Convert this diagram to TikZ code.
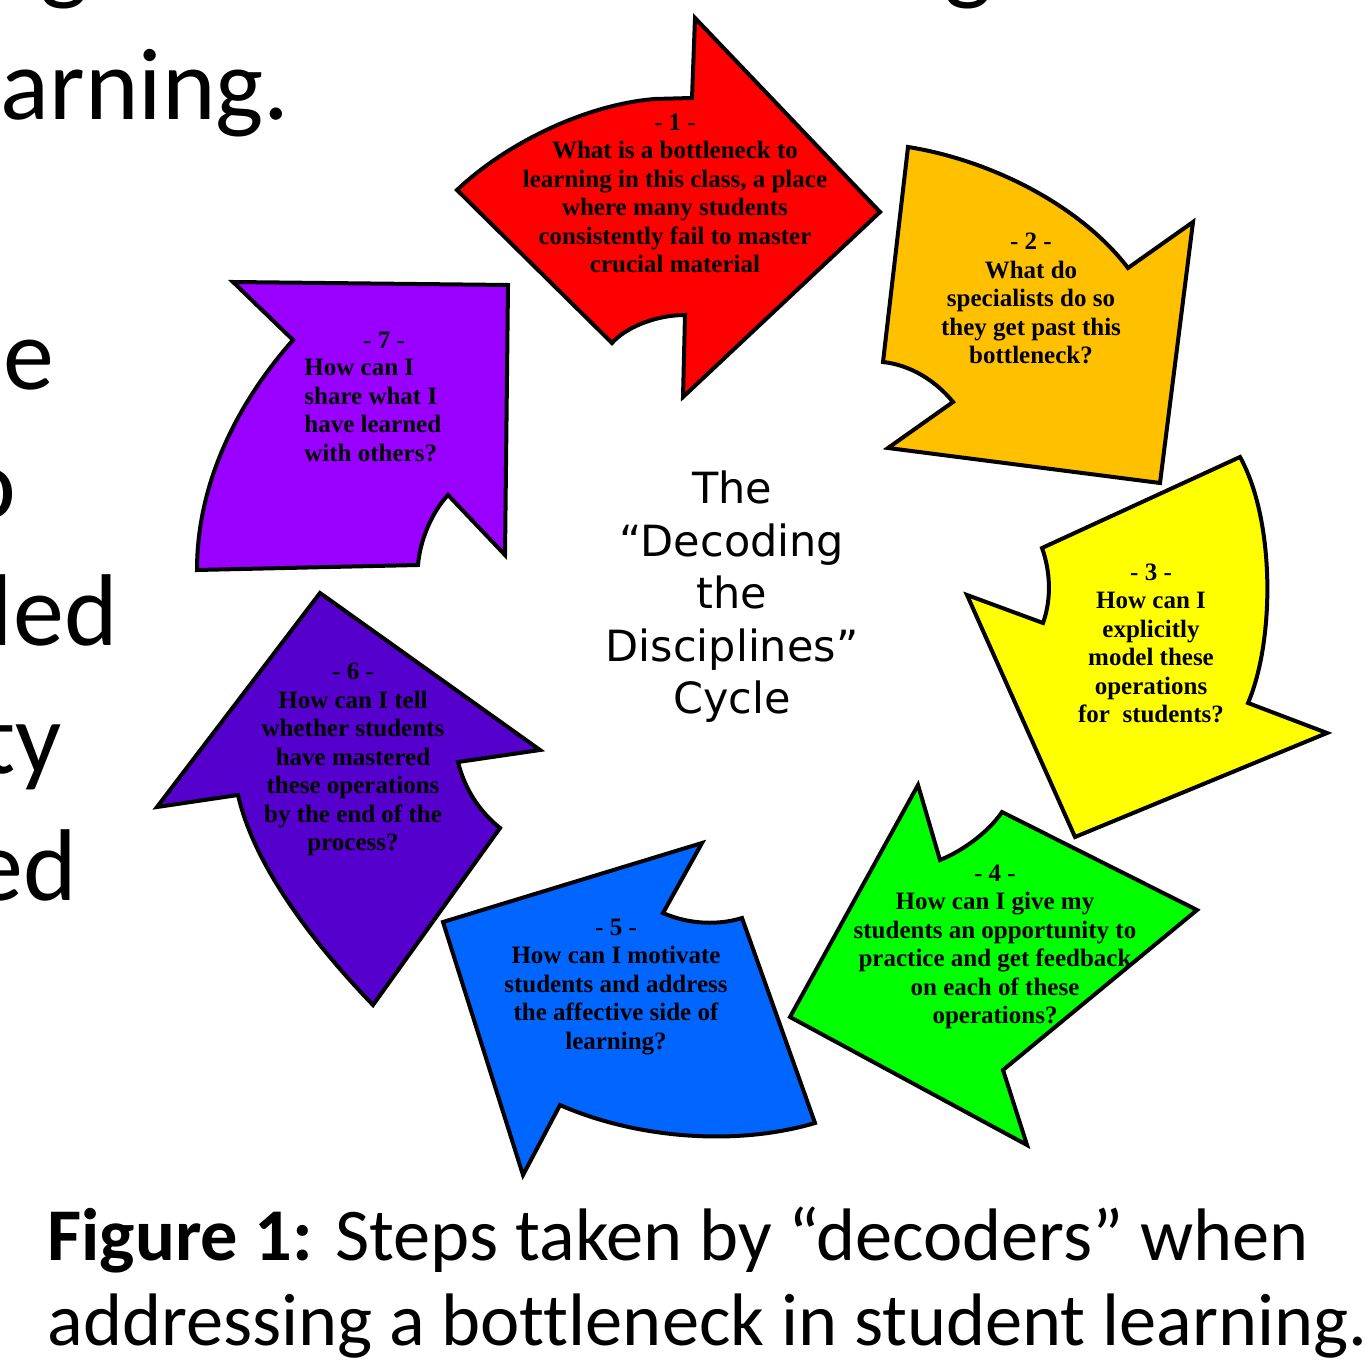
\documentclass[tikz,border=0pt]{standalone}
\usepackage{fontspec}
\setmainfont{Liberation Serif}
\newfontfamily\calfont[Ligatures=NoCommon]{Carlito}
\newfontfamily\verdfont{DejaVu Sans}
\definecolor{cRed}{HTML}{FF0000}
\definecolor{cOrange}{HTML}{FFC000}
\definecolor{cYellow}{HTML}{FFFF00}
\definecolor{cGreen}{HTML}{00FF00}
\definecolor{cBlue}{HTML}{0066FF}
\definecolor{cIndigo}{HTML}{5500CC}
\definecolor{cViolet}{HTML}{9900FF}
\tikzset{
  arrowshape/.style={draw=black, line width=2pt, line join=miter},
  qtext/.style={font=\bfseries\fontsize{12.5}{14.25}\selectfont, align=center, inner sep=0pt, text=black},
  bigtext/.style={font=\calfont\fontsize{51}{61}\selectfont, inner sep=0pt, anchor=base east},
  captext/.style={font=\calfont\fontsize{37.2}{45}\selectfont, inner sep=0pt, anchor=base west},
  centertext/.style={font=\verdfont\fontsize{21.5}{26.25}\selectfont, align=center, inner sep=0pt}
}
\begin{document}
\begin{tikzpicture}[x=0.5pt,y=-0.5pt]
\useasboundingbox (0,0) rectangle (1368,1368);
\clip (0,0) rectangle (1368,1368);

% background text fragments (cut off at the page edges, as in the reference)
\node[bigtext, anchor=base] (g1) at (65,-8) {g};
\node[bigtext, anchor=base] (g2) at (968,-8) {g};
\node[bigtext] (t1) at (290,120) {arning.};
\node[bigtext] (t2) at (55,390) {e};
\node[bigtext] (t3) at (17,518) {o};
\node[bigtext] (t4) at (118,645) {led};
\node[bigtext] (t5) at (62,773) {ty};
\node[bigtext] (t6) at (77,900) {ed};

% arrow 1 (red)
\path[arrowshape, fill=cRed] (695,18) -- (692,98) -- (655,99)
  .. controls (590,104) and (510,140) .. (457,190) -- (612,343)
  .. controls (625,328) and (655,315) .. (685,315) -- (683,397) -- (880,212) -- cycle;
% arrow 2 (orange)
\path[arrowshape, fill=cOrange] (908,147) .. controls (990,160) and (1080,205) .. (1128,268)
  -- (1193,222) -- (1160,483) -- (888,448) -- (953,402)
  .. controls (935,380) and (910,365) .. (883,362) -- cycle;
% arrow 3 (yellow)
\path[arrowshape, fill=cYellow] (1240,457) .. controls (1275,520) and (1275,640) .. (1248,703)
  -- (1327,733) -- (1075,837) -- (967,595) -- (1043,623)
  .. controls (1052,598) and (1050,570) .. (1042,548) -- cycle;
% arrow 4 (green)
\path[arrowshape, fill=cGreen] (918,785) -- (940,860)
  .. controls (965,850) and (990,830) .. (1002,812) -- (1197,910) -- (1003,1070)
  -- (1027,1145) -- (790,1017) -- cycle;
% arrow 5 (blue)
\path[arrowshape, fill=cBlue] (702,843) -- (663,913)
  .. controls (690,925) and (720,925) .. (742,918) -- (815,1123)
  .. controls (730,1148) and (630,1136) .. (560,1105) -- (523,1175) -- (443,922) -- cycle;
% arrow 6 (indigo)
\path[arrowshape, fill=cIndigo] (320,593) -- (540,750) -- (458,762)
  .. controls (465,790) and (480,812) .. (500,828) -- (373,1005)
  .. controls (320,950) and (255,870) .. (238,795) -- (157,807) -- cycle;
% arrow 7 (violet)
\path[arrowshape, fill=cViolet] (233,282) -- (508,285) -- (505,555) -- (448,495)
  .. controls (432,512) and (420,540) .. (418,565) -- (197,570)
  .. controls (197,480) and (240,400) .. (293,340) -- cycle;

% texts in the arrows
\node[qtext] (q1) at (675,193.5) {- 1 -\\What is a bottleneck to\\learning in this class, a place\\where many students\\consistently fail to master\\crucial material};
\node[qtext] (q2) at (1031,298.5) {- 2 -\\What do\\specialists do so\\they get past this\\bottleneck?};
\node[qtext] (q3) at (1151,643.5) {- 3 -\\How can I\\explicitly\\model these\\operations\\for\ \ students?};
\node[qtext] (q4) at (995,947) {- 4 -\\How can I give my\\students an opportunity to\\practice and get feedback\\on each of these\\operations?};
\node[qtext] (q5) at (616,987) {- 5 -\\How can I motivate\\students and address\\the affective side of\\learning?};
\node[qtext] (q6) at (353,759.5) {- 6 -\\How can I tell\\whether students\\have mastered\\these operations\\by the end of the\\process?};
\node[qtext] (q7h) at (384,340) {- 7 -};
\node[qtext, align=left, anchor=west] (q7) at (304,410.5) {How can I\\share what I\\have learned\\with others?};

% centre title
\node[centertext] (title) at (732,597) {The\\“Decoding\\the\\Disciplines”\\Cycle};

% caption
\node[captext] (cap1) at (47,1260) {\textbf{Figure 1:} Steps taken by “decoders” when};
\node[captext] (cap2) at (47,1345) {addressing a bottleneck in student learning.};
\end{tikzpicture}
\end{document}
